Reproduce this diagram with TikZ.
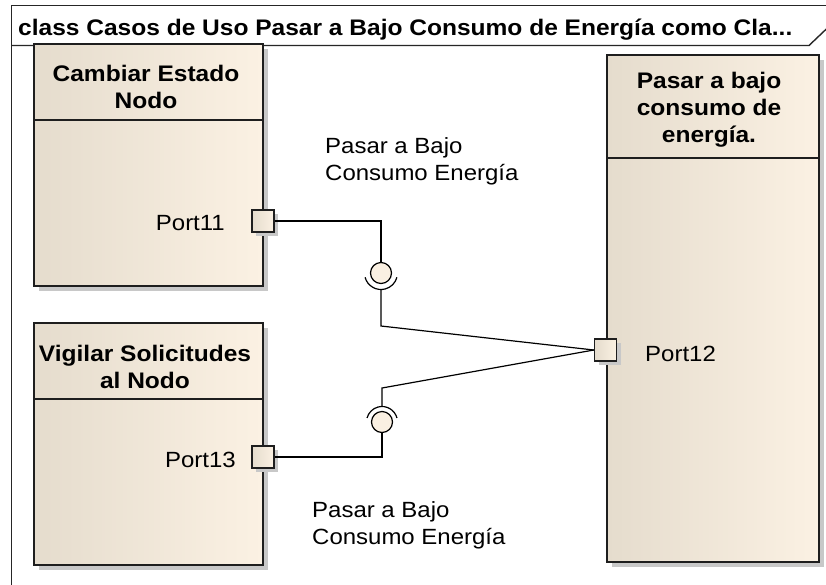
\documentclass[tikz,border=0pt]{standalone}
\usepackage{fontspec}
\setmainfont{Liberation Sans}[FakeStretch=1.09]
\usetikzlibrary{shadows,calc}
\definecolor{boxL}{RGB}{229,220,205}
\definecolor{boxR}{RGB}{251,241,227}
\definecolor{ballc}{RGB}{250,240,226}
\definecolor{shadc}{RGB}{200,200,200}
\definecolor{edge}{RGB}{30,30,30}
\tikzset{
  umlbox/.style={draw=edge, line width=1.6pt, left color=boxL, right color=boxR, anchor=north west, inner sep=0pt,
    general shadow={fill=shadc, shadow xshift=5pt, shadow yshift=-5pt}},
  portbox/.style={draw=edge, line width=1.4pt, left color=boxL, right color=boxR, minimum size=22pt, inner sep=0pt,
    general shadow={fill=shadc, shadow xshift=4pt, shadow yshift=-4pt}},
  ball/.style={circle, draw=black, line width=1.2pt, fill=ballc, minimum size=21pt, inner sep=0pt},
  conn/.style={draw=black, line width=1.2pt},
  frameline/.style={draw=black!85, line width=1.4pt},
  titletxt/.style={font=\bfseries\fontsize{22.5}{27}\selectfont, align=center, inner sep=0pt},
  lbl/.style={font=\fontsize{22}{27}\selectfont, inner sep=0pt},
}
\begin{document}
\begin{tikzpicture}[x=1pt,y=-1pt]
\useasboundingbox[fill=white] (0,0) rectangle (826,584);
% frame
\draw[frameline] (11.5,600) -- (11.5,5.5) -- (840,5.5);
\draw[frameline] (11.5,45.5) -- (809,45.5) -- (830,25.5);
\node[anchor=base west, inner sep=0pt, font=\bfseries\fontsize{22.5}{27}\selectfont] (title) at (18,35) {class Casos de Uso Pasar a Bajo Consumo de Energía como Cla...};
% boxes
\node[umlbox, minimum width=229pt, minimum height=242pt] (b1) at (33,43) {};
\draw[edge, line width=1.2pt] (33,120) -- (262,120);
\node[titletxt] (t1) at (146,87) {Cambiar Estado\\Nodo};
\node[umlbox, minimum width=229pt, minimum height=242pt] (b2) at (33,322) {};
\draw[edge, line width=1.2pt] (33,399) -- (262,399);
\node[titletxt] (t2) at (145,367) {Vigilar Solicitudes\\al Nodo};
\node[umlbox, minimum width=212pt, minimum height=507pt] (b3) at (606,54) {};
\draw[edge, line width=1.2pt] (606,158) -- (818,158);
\node[titletxt] (t3) at (709,110) {Pasar a bajo\\consumo de\\ energía.};
% ports
\node[portbox] (p11) at (263,221) {};
\node[portbox] (p13) at (263,457) {};
\node[portbox] (p12) at (605.5,350) {};
\node[lbl, anchor=east] (l11) at (225,223) {Port11};
\node[lbl, anchor=east] (l13) at (236,460) {Port13};
\node[lbl, anchor=west] (l12) at (645,354) {Port12};
% interfaces
\node[ball] (ball1) at (381,273) {};
\node[ball] (ball2) at (382,422) {};
\coordinate (s1) at (381,289.5);
\coordinate (s2) at (382,406.5);
\coordinate (k1) at (381,326);
\coordinate (k2) at (382,388);
\draw[conn] (p11.east) -- (ball1.north |- p11.east) -- (ball1.north);
\draw[conn] ([shift={(195:16.5pt)}]ball1.center) arc[start angle=195, end angle=345, radius=16.5pt];
\draw[conn] (s1) -- (k1) -- (p12.west);
\draw[conn] (p13.east) -- (ball2.south |- p13.east) -- (ball2.south);
\draw[conn] ([shift={(15:15.5pt)}]ball2.center) arc[start angle=15, end angle=165, radius=15.5pt];
\draw[conn] (s2) -- (k2) -- (p12.west);
% labels
\node[lbl, anchor=north west, align=left] (i1) at (325,137) {Pasar a Bajo\\Consumo Energía};
\node[lbl, anchor=north west, align=left] (i2) at (312,501) {Pasar a Bajo\\Consumo Energía};
\end{tikzpicture}
\end{document}
